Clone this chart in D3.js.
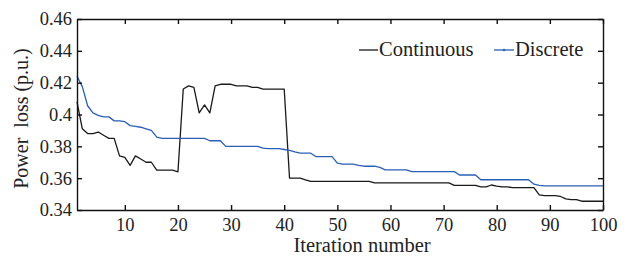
<!DOCTYPE html>
<html>
<head>
<meta charset="utf-8">
<script src="https://cdn.jsdelivr.net/npm/d3@7"></script>
<style>
  body { margin: 0; background: #fff; }
  #chart svg { display: block; }
  .axis path, .axis line { stroke: #111; stroke-width: 1.4; }
</style>
</head>
<body>
<div id="chart"></div>
<script>
// iteration 1..100
const iterations = d3.range(1, 101)

const continuous = [
  0.408, 0.391, 0.388, 0.388, 0.389, 0.387, 0.385, 0.385, 0.374, 0.373,
  0.368, 0.374, 0.372, 0.370, 0.370, 0.365, 0.365, 0.365, 0.365, 0.364,
  0.416, 0.418, 0.417, 0.401, 0.406, 0.401, 0.418, 0.419, 0.419, 0.419,
  0.418, 0.418, 0.418, 0.417, 0.417, 0.416, 0.416, 0.416, 0.416, 0.416,
  0.360, 0.360, 0.360, 0.359, 0.358, 0.358, 0.358, 0.358, 0.358, 0.358,
  0.358, 0.358, 0.358, 0.358, 0.358, 0.358, 0.357, 0.357, 0.357, 0.357,
  0.357, 0.357, 0.357, 0.357, 0.357, 0.357, 0.357, 0.357, 0.357, 0.357,
  0.357, 0.3555, 0.3555, 0.3555, 0.3555, 0.3555, 0.3545, 0.3545, 0.3557, 0.355,
  0.3545, 0.3545, 0.354, 0.354, 0.354, 0.354, 0.354, 0.3495, 0.349, 0.349,
  0.349, 0.3485, 0.347, 0.3465, 0.3465, 0.3455, 0.3455, 0.3455, 0.3455, 0.3455
]

const discrete = [
  0.424, 0.4175, 0.4055, 0.401, 0.3995, 0.3985, 0.3985, 0.396, 0.396, 0.3955,
  0.393, 0.3925, 0.392, 0.391, 0.390, 0.3858, 0.385, 0.385, 0.385, 0.385,
  0.385, 0.385, 0.385, 0.385, 0.385, 0.3835, 0.3835, 0.3835, 0.380, 0.380,
  0.380, 0.380, 0.380, 0.380, 0.380, 0.3789, 0.3785, 0.3785, 0.3785, 0.378,
  0.3775, 0.3765, 0.3757, 0.3757, 0.3757, 0.3735, 0.3735, 0.3735, 0.3735, 0.3695,
  0.3688, 0.3688, 0.3688, 0.368, 0.3675, 0.3675, 0.3675, 0.3668, 0.3652, 0.3652,
  0.3652, 0.3652, 0.3652, 0.3641, 0.3641, 0.3641, 0.3641, 0.3641, 0.3641, 0.3641,
  0.3641, 0.3641, 0.362, 0.362, 0.362, 0.362, 0.359, 0.359, 0.359, 0.359,
  0.359, 0.359, 0.359, 0.359, 0.359, 0.359, 0.3562, 0.3555, 0.3551, 0.3551,
  0.3551, 0.3551, 0.3551, 0.3551, 0.3551, 0.3551, 0.3551, 0.3551, 0.3551, 0.3551
]

const xTicks = [10, 20, 30, 40, 50, 60, 70, 80, 90, 100]
const yTicks = [0.34, 0.36, 0.38, 0.40, 0.42, 0.44, 0.46]
const yTickLabels = ['0.34', '0.36', '0.38', '0.4', '0.42', '0.44', '0.46']

const seriesNames = ['Continuous', 'Discrete']
const seriesColors = ['#1a1a1a', '#2a5fb5']

const FONT = '"Liberation Serif"'

const width = 627
const height = 257
const margin = { top: 19, right: 24, bottom: 47, left: 77 }
const innerW = width - margin.left - margin.right
const innerH = height - margin.top - margin.bottom

const svg = d3.select('#chart').append('svg')
  .attr('width', width)
  .attr('height', height)

const g = svg.append('g')
  .attr('transform', `translate(${margin.left},${margin.top})`)

const x = d3.scaleLinear().domain([1, 100]).range([0, innerW])
const y = d3.scaleLinear().domain([0.34, 0.46]).range([innerH, 0])

// data lines
const line = d3.line()
  .x((d, i) => x(iterations[i]))
  .y(d => y(d))

const series = [continuous, discrete]
series.forEach((vals, k) => {
  g.append('path')
    .datum(vals)
    .attr('fill', 'none')
    .attr('stroke', seriesColors[k])
    .attr('stroke-width', 1.3)
    .attr('stroke-linejoin', 'round')
    .attr('d', line)
})

// axes, ticks pointing inward
function styleAxis (ax) {
  ax.selectAll('text')
    .style('font-family', FONT)
    .style('font-size', '18.5px')
    .style('fill', '#222')
}

g.append('g')
  .attr('class', 'axis')
  .attr('transform', `translate(0,${innerH})`)
  .call(d3.axisBottom(x).tickValues(xTicks).tickSizeInner(-5).tickSizeOuter(0).tickPadding(8))
  .call(styleAxis)

g.append('g')
  .attr('class', 'axis')
  .call(d3.axisTop(x).tickValues(xTicks).tickSizeInner(-5).tickSizeOuter(0).tickFormat(''))

g.append('g')
  .attr('class', 'axis')
  .call(d3.axisLeft(y).tickValues(yTicks).tickSizeInner(-5).tickSizeOuter(0).tickPadding(5)
    .tickFormat((d, i) => yTickLabels[i]))
  .call(styleAxis)

g.append('g')
  .attr('class', 'axis')
  .attr('transform', `translate(${innerW},0)`)
  .call(d3.axisRight(y).tickValues(yTicks).tickSizeInner(-5).tickSizeOuter(0).tickFormat(''))

// axis labels
svg.append('text')
  .attr('x', 362)
  .attr('y', 252)
  .attr('text-anchor', 'middle')
  .style('font-family', FONT)
  .style('font-size', '20.5px')
  .style('fill', '#222')
  .text('Iteration number')

svg.append('text')
  .attr('transform', `translate(28,${margin.top + innerH / 2 + 4}) rotate(-90)`)
  .attr('text-anchor', 'middle')
  .style('font-family', FONT)
  .style('font-size', '20px')
  .style('fill', '#222')
  .style('white-space', 'pre')
  .text('Power  loss (p.u.)')

// legend
const legendItems = [
  { x0: 359, x1: 378, tx: 379 },
  { x0: 494, x1: 514, tx: 515 }
]
const legend = svg.append('g')
legendItems.forEach((it, k) => {
  legend.append('line')
    .attr('x1', it.x0).attr('x2', it.x1)
    .attr('y1', 50).attr('y2', 50)
    .attr('stroke', seriesColors[k])
    .attr('stroke-width', 1.3)
  if (k === 1) {
    legend.append('circle')
      .attr('cx', (it.x0 + it.x1) / 2).attr('cy', 50).attr('r', 1.2)
      .attr('fill', seriesColors[k])
  }
  legend.append('text')
    .attr('x', it.tx)
    .attr('y', 56)
    .style('font-family', FONT)
    .style('font-size', '20.5px')
    .style('fill', '#222')
    .text(seriesNames[k])
})
</script>
</body>
</html>
